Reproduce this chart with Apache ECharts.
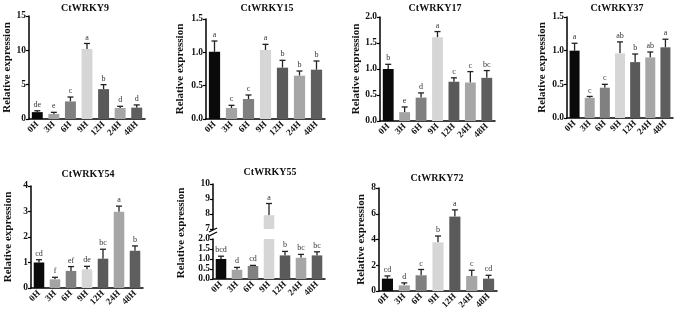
<!DOCTYPE html>
<html>
<head>
<meta charset="utf-8">
<script src="https://cdn.jsdelivr.net/npm/echarts@6/dist/echarts.min.js"></script>
<style>
  html, body { margin: 0; padding: 0; background: #fff; }
  #chart { width: 685px; height: 316px; }
</style>
</head>
<body>
<div id="chart"></div>
<script>
// sampling times
const times = ['0H', '3H', '6H', '9H', '12H', '24H', '48H'];

// mean relative expression, error (SD) and significance letters per gene
const wrky9Mean = [1.0, 0.73, 2.56, 10.2, 4.35, 1.6, 1.65];
const wrky9Sd = [0.2, 0.24, 0.64, 0.8, 0.65, 0.25, 0.4];
const wrky9Sig = ['de', 'e', 'c', 'a', 'b', 'd', 'd'];

const wrky15Mean = [1.01, 0.165, 0.30, 1.035, 0.77, 0.65, 0.74];
const wrky15Sd = [0.16, 0.04, 0.06, 0.085, 0.11, 0.07, 0.13];
const wrky15Sig = ['a', 'c', 'c', 'a', 'b', 'b', 'b'];

const wrky17Mean = [1.0, 0.17, 0.45, 1.61, 0.755, 0.74, 0.83];
const wrky17Sd = [0.09, 0.10, 0.09, 0.11, 0.075, 0.21, 0.14];
const wrky17Sig = ['b', 'e', 'd', 'a', 'c', 'c', 'bc'];

const wrky37Mean = [1.0, 0.30, 0.45, 0.96, 0.83, 0.90, 1.05];
const wrky37Sd = [0.11, 0.02, 0.05, 0.17, 0.12, 0.08, 0.12];
const wrky37Sig = ['a', 'c', 'c', 'ab', 'b', 'ab', 'a'];

const wrky54Mean = [1.0, 0.34, 0.67, 0.73, 1.15, 2.99, 1.46];
const wrky54Sd = [0.11, 0.08, 0.17, 0.12, 0.37, 0.22, 0.19];
const wrky54Sig = ['cd', 'f', 'ef', 'de', 'bc', 'a', 'b'];

const wrky55Mean = [1.0, 0.46, 0.65, 7.92, 1.18, 1.06, 1.18];
const wrky55Sd = [0.14, 0.12, 0.03, 0.78, 0.2, 0.17, 0.18];
const wrky55Sig = ['bcd', 'd', 'cd', 'a', 'b', 'bc', 'bc'];

const wrky72Mean = [0.96, 0.44, 1.22, 3.78, 5.78, 1.17, 0.96];
const wrky72Sd = [0.21, 0.19, 0.45, 0.49, 0.52, 0.44, 0.26];
const wrky72Sig = ['cd', 'd', 'c', 'b', 'a', 'c', 'cd'];

const FONT = '"Liberation Serif", "Times New Roman", serif';
const barColors = ['#0a0a0a', '#a3a3a3', '#808080', '#d6d6d6', '#5a5a5a', '#a6a6a6', '#5e5e5e'];

const chart = echarts.init(document.getElementById('chart'));

const option = {
  animation: false,
  backgroundColor: '#fff',
  grid: [], xAxis: [], yAxis: [], series: [], graphic: []
};

function addTitle(text, cx, cy) {
  option.graphic.push({
    type: 'text', x: cx, y: cy, silent: true,
    style: {
      text: text, align: 'center', verticalAlign: 'middle',
      textAlign: 'center', textVerticalAlign: 'middle',
      font: 'bold 10px ' + FONT, fill: '#111'
    }
  });
}

function addGrid(rect, y, showX, name) {
  const gi = option.grid.length;
  option.grid.push(Object.assign({ containLabel: false }, rect));
  option.xAxis.push({
    type: 'category', gridIndex: gi, data: times, show: showX,
    axisLine: { lineStyle: { color: '#000', width: 1.5 } },
    axisTick: { alignWithLabel: true, length: 3, lineStyle: { color: '#000', width: 1.2 } },
    axisLabel: {
      interval: 0, hideOverlap: false, rotate: 45, margin: 4,
      fontFamily: FONT, fontWeight: 'bold', fontSize: 9, color: '#111'
    }
  });
  option.yAxis.push({
    type: 'value', gridIndex: gi, min: y.min, max: y.max, interval: y.interval,
    name: name || '', nameLocation: 'middle', nameGap: y.gap || 18,
    nameTextStyle: { fontFamily: FONT, fontWeight: 'bold', fontSize: 11, color: '#111' },
    splitLine: { show: false },
    axisLine: { show: true, lineStyle: { color: '#000', width: 1.5 } },
    axisTick: { show: true, length: 3, lineStyle: { color: '#000', width: 1.2 } },
    axisLabel: {
      margin: 3, fontFamily: FONT, fontWeight: 'bold', fontSize: 9.5, color: '#111',
      formatter: y.dec ? (v => v.toFixed(y.dec)) : (v => String(v))
    }
  });
  return gi;
}

function addBars(gi, means, sds, sig, lo, hi) {
  option.series.push({
    type: 'bar', xAxisIndex: gi, yAxisIndex: gi, barWidth: '66%', clip: true, silent: true,
    data: means.map((v, i) => ({ value: v, itemStyle: { color: barColors[i] } }))
  });
  option.series.push({
    type: 'custom', xAxisIndex: gi, yAxisIndex: gi, silent: true, clip: false,
    data: means.map((v, i) => [i, v, sds[i]]),
    renderItem: function (params, api) {
      const i = api.value(0), m = api.value(1), top = m + api.value(2);
      if (top > hi || m < lo) return null;
      const p0 = api.coord([i, m]);
      const p1 = api.coord([i, top]);
      const ls = { stroke: '#222', lineWidth: 1.3 };
      return {
        type: 'group',
        children: [
          { type: 'line', shape: { x1: p0[0], y1: p0[1], x2: p1[0], y2: p1[1] }, style: ls },
          { type: 'line', shape: { x1: p1[0] - 3, y1: p1[1], x2: p1[0] + 3, y2: p1[1] }, style: ls },
          {
            type: 'text', x: p1[0], y: p1[1] - 2,
            style: {
              text: sig[params.dataIndex], align: 'center', verticalAlign: 'bottom',
              textAlign: 'center', textVerticalAlign: 'bottom',
              font: '8px ' + FONT, fill: '#333'
            }
          }
        ]
      };
    }
  });
}

const YNAME = 'Relative expression';

// top row
let g = addGrid({ left: 29, top: 16, width: 116, height: 103 }, { min: 0, max: 15, interval: 5, gap: 16 }, true, YNAME);
addBars(g, wrky9Mean, wrky9Sd, wrky9Sig, -1, 99);
addTitle('CtWRKY9', 85, 8);

g = addGrid({ left: 206, top: 19, width: 119, height: 100 }, { min: 0, max: 1.5, interval: 0.5, dec: 1, gap: 20 }, true, YNAME);
addBars(g, wrky15Mean, wrky15Sd, wrky15Sig, -1, 99);
addTitle('CtWRKY15', 267, 8);

g = addGrid({ left: 380, top: 17, width: 115, height: 104 }, { min: 0, max: 2, interval: 0.5, dec: 1, gap: 18 }, true, YNAME);
addBars(g, wrky17Mean, wrky17Sd, wrky17Sig, -1, 99);
addTitle('CtWRKY17', 435, 8);

g = addGrid({ left: 567, top: 17, width: 106, height: 101 }, { min: 0, max: 1.5, interval: 0.5, dec: 1, gap: 19 }, true, YNAME);
addBars(g, wrky37Mean, wrky37Sd, wrky37Sig, -1, 99);
addTitle('CtWRKY37', 617, 8);

// bottom row
g = addGrid({ left: 31, top: 186, width: 112, height: 102 }, { min: 0, max: 4, interval: 1, gap: 17 }, true, YNAME);
addBars(g, wrky54Mean, wrky54Sd, wrky54Sig, -1, 99);
addTitle('CtWRKY54', 88, 174);

// CtWRKY55 with broken axis: upper segment 7-10, lower 0-2
g = addGrid({ left: 213, top: 184, width: 112, height: 45 }, { min: 7, max: 10, interval: 1 }, false, '');
addBars(g, wrky55Mean, wrky55Sd, wrky55Sig, 7, 99);
g = addGrid({ left: 213, top: 239, width: 112, height: 40 }, { min: 0, max: 2, interval: 0.5, dec: 1 }, true, '');
addBars(g, wrky55Mean, wrky55Sd, wrky55Sig, -1, 2);
addTitle('CtWRKY55', 270, 172);
option.graphic.push({
  type: 'text', x: 181, y: 233, rotation: Math.PI / 2, silent: true,
  style: {
    text: YNAME, align: 'center', verticalAlign: 'middle',
    textAlign: 'center', textVerticalAlign: 'middle',
    font: 'bold 11px ' + FONT, fill: '#111'
  }
});
option.graphic.push({ type: 'line', silent: true, shape: { x1: 209, y1: 232, x2: 217, y2: 228 }, style: { stroke: '#000', lineWidth: 1.3 } });
option.graphic.push({ type: 'line', silent: true, shape: { x1: 209, y1: 236, x2: 217, y2: 232 }, style: { stroke: '#000', lineWidth: 1.3 } });

g = addGrid({ left: 379, top: 188, width: 118, height: 103 }, { min: 0, max: 8, interval: 2, gap: 12 }, true, YNAME);
addBars(g, wrky72Mean, wrky72Sd, wrky72Sig, -1, 99);
addTitle('CtWRKY72', 437, 178);

chart.setOption(option);
</script>
</body>
</html>
